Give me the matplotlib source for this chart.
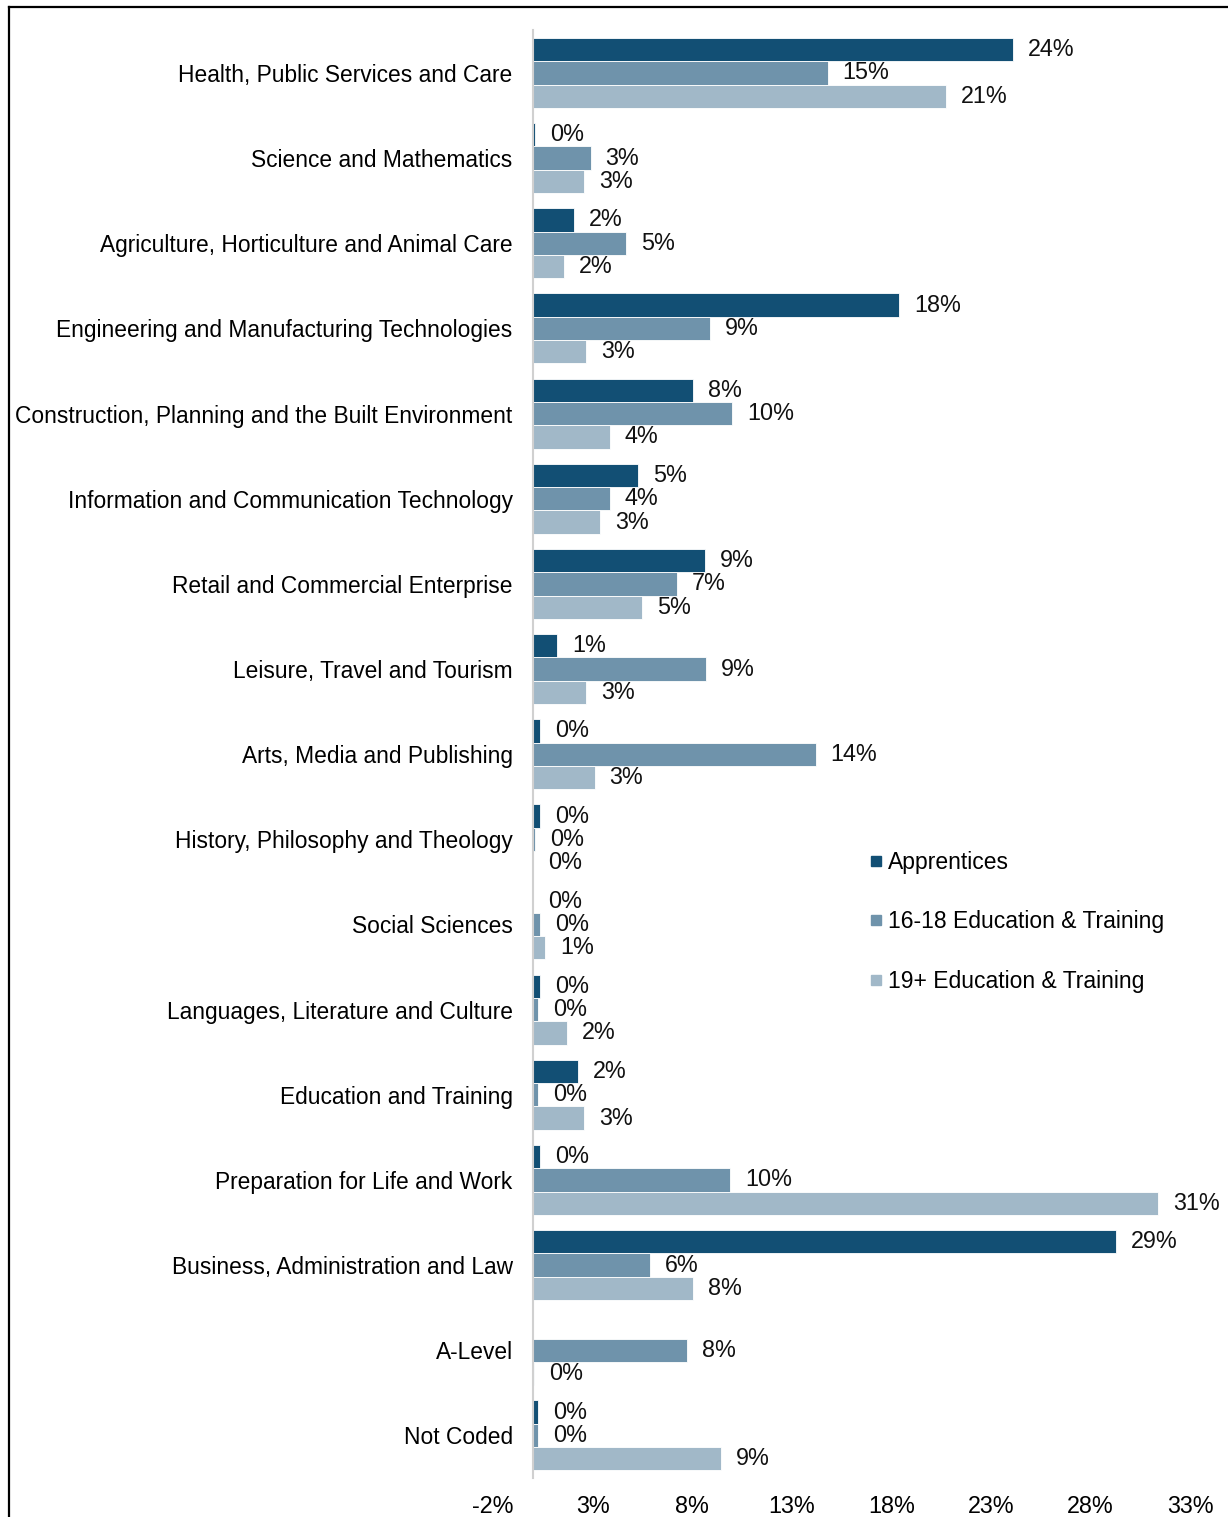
import numpy as np
import matplotlib.pyplot as plt
from matplotlib.lines import Line2D

plt.rcParams['font.family'] = ['Liberation Sans', 'DejaVu Sans']

categories = [
    "Health, Public Services and Care",
    "Science and Mathematics",
    "Agriculture, Horticulture and Animal Care",
    "Engineering and Manufacturing Technologies",
    "Construction, Planning and the Built Environment",
    "Information and Communication Technology",
    "Retail and Commercial Enterprise",
    "Leisure, Travel and Tourism",
    "Arts, Media and Publishing",
    "History, Philosophy and Theology",
    "Social Sciences",
    "Languages, Literature and Culture",
    "Education and Training",
    "Preparation for Life and Work",
    "Business, Administration and Law",
    "A-Level",
    "Not Coded",
]

# shares in %, one value per category
apprentices = [24.1, 0.1, 2.06, 18.4, 8.04, 5.28, 8.64, 1.2, 0.35, 0.35,
               0.0, 0.35, 2.26, 0.35, 29.3, np.nan, 0.25]
edu_16_18 = [14.8, 2.9, 4.67, 8.9, 10.0, 3.87, 7.24, 8.7, 14.2, 0.1,
             0.35, 0.25, 0.25, 9.9, 5.88, 7.74, 0.25]
edu_19plus = [20.75, 2.56, 1.56, 2.66, 3.87, 3.37, 5.48, 2.66, 3.1, 0.0,
              0.6, 1.7, 2.56, 31.4, 8.04, 0.05, 9.45]

series = [
    ("Apprentices", apprentices, "#124f74"),
    ("16-18 Education & Training", edu_16_18, "#6f93ab"),
    ("19+ Education & Training", edu_19plus, "#a1b8c8"),
]
xticks = [-2, 3, 8, 13, 18, 23, 28, 33]
fs = 16.8
fs_cat = 16.4

fig = plt.figure(figsize=(12.28, 15.17), dpi=100)
ax = fig.add_axes([0.4015, 0.0257, 0.9691 - 0.4015, 0.980 - 0.0257])

# vertical axis sits at 0%
for s in ['top', 'right', 'bottom']:
    ax.spines[s].set_visible(False)
ax.spines['left'].set_position(('data', 0))
ax.spines['left'].set_color('#d0d0d0')
ax.spines['left'].set_linewidth(1.5)

y = np.arange(len(categories))
h = 0.274
for i, (name, vals, col) in enumerate(series):
    vals = np.array(vals, dtype=float)
    pos = y - h + i * h
    ax.barh(pos, np.nan_to_num(vals), height=h, color=col,
            edgecolor='white', linewidth=0.6, label=name)
    for p, v in zip(pos, vals):
        if np.isnan(v):
            continue
        ax.annotate(f"{v:.0f}%", (v, p), xytext=(15, 0),
                    textcoords='offset pixels',
                    ha='left', va='center', fontsize=fs, color='#111111')

ax.set_xlim(-2, 33)
ax.set_ylim(len(categories) - 0.5, -0.5)
ax.set_xticks(xticks)
ax.set_xticklabels([f"{t}%" for t in xticks], fontsize=fs)
ax.set_yticks(y)
ax.set_yticklabels(categories, fontsize=fs_cat)
ax.tick_params(axis='both', length=0)
ax.tick_params(axis='y', pad=14.5)
ax.tick_params(axis='x', pad=12)

handles = [Line2D([], [], marker='s', linestyle='none', markersize=7,
                  markerfacecolor=c, markeredgecolor=c) for _, _, c in series]
ax.legend(handles, [n for n, _, _ in series], loc='upper left',
          bbox_to_anchor=(0.507, 0.4475), frameon=False, fontsize=16.5,
          handletextpad=0.1, handlelength=0.8, labelspacing=1.6)

# outer border (top and left edges)
fig.add_artist(Line2D([9 / 1228, 1], [1 - 7 / 1517, 1 - 7 / 1517],
                      color='black', linewidth=1.6))
fig.add_artist(Line2D([9 / 1228, 9 / 1228], [0, 1 - 7 / 1517],
                      color='black', linewidth=1.6))

fig.savefig("out.png", dpi=100)
